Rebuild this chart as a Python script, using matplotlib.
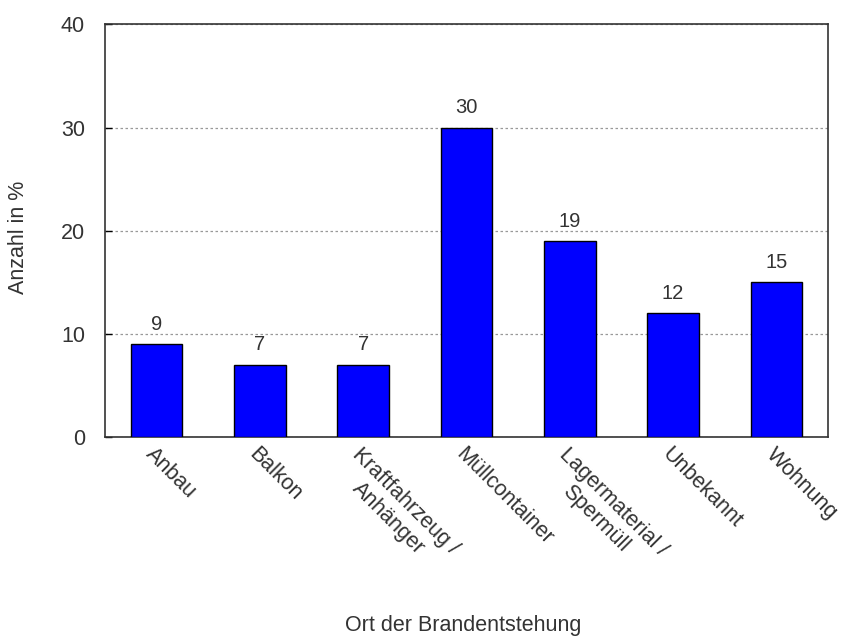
import matplotlib.pyplot as plt
import numpy as np

plt.rcParams['font.family'] = ['Liberation Sans', 'DejaVu Sans']

orte = ['Anbau', 'Balkon', 'Kraftfahrzeug /\nAnhänger', 'Müllcontainer',
        'Lagermaterial /\nSpermüll', 'Unbekannt', 'Wohnung']
anteil = [9, 7, 7, 30, 19, 12, 15]

txt = '#333333'
fs = 15.5

fig = plt.figure(figsize=(8.43, 6.36), dpi=100)
ax = fig.add_axes([0.1246, 0.3129, 0.8576, 0.6486])

x = np.arange(len(orte))
bars = ax.bar(x, anteil, width=0.5, color='#0000FF', edgecolor='black',
              linewidth=1, zorder=3)

# Werte ueber den Balken
for b, v in zip(bars, anteil):
    ax.annotate(str(v), (b.get_x() + b.get_width() / 2, v),
                xytext=(0, 7.5), textcoords='offset points',
                ha='center', va='bottom', fontsize=14.5, color=txt)

ax.set_xlim(-0.5, len(orte) - 0.5)
ax.set_ylim(0, 40)
ax.set_yticks([0, 10, 20, 30, 40])
ax.yaxis.grid(True, color='#999999', linestyle=(0, (2, 2)), linewidth=0.9, zorder=0)

ax.set_xticks(x)
ax.set_xticklabels(orte, rotation=-45, ha='left', va='top',
                   rotation_mode='anchor', multialignment='center',
                   fontsize=fs, color=txt)
ax.tick_params(axis='x', length=0, pad=5)
ax.tick_params(axis='y', direction='in', length=5, width=1, pad=14.5,
               labelsize=fs, labelcolor=txt)

for s in ax.spines.values():
    s.set_color('#333333')
    s.set_linewidth(1.2)

ax.set_ylabel('Anzahl in %', fontsize=fs, color=txt)
ax.yaxis.set_label_coords(-0.105, 0.485)

fig.text(0.549, 1 - 631 / 636, 'Ort der Brandentstehung', fontsize=fs,
         color=txt, ha='center', va='baseline')

fig.savefig('out.png', dpi=100)
